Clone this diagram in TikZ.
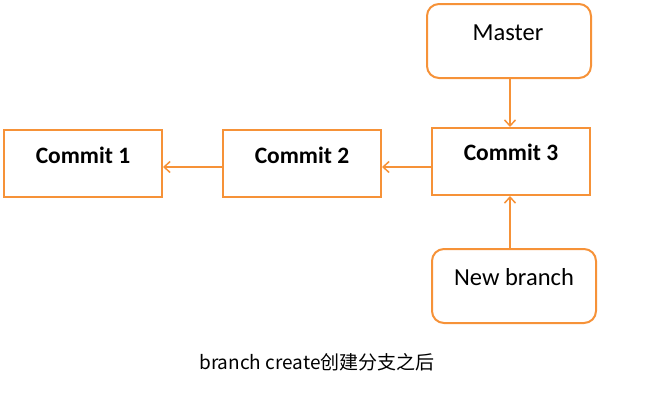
\documentclass[tikz,border=0pt]{standalone}
\usepackage{fontspec}
\setmainfont{Carlito}
\newfontfamily\cjk{Noto Sans CJK SC}
\usetikzlibrary{arrows.meta}
\definecolor{gitorange}{RGB}{246,146,56}
\tikzset{
  commitbox/.style={draw=gitorange, line width=2pt, rectangle},
  refbox/.style={draw=gitorange, line width=2pt, rounded corners=12pt},
  lbl/.style={anchor=base, inner sep=0pt, font=\fontsize{24.5}{28}\selectfont},
  boldlbl/.style={lbl, font=\fontsize{23.5}{28}\selectfont\bfseries},
  link/.style={draw=gitorange, line width=1.5pt, -{Straight Barb[length=6pt,width=11pt,line width=1.5pt]}}
}
\begin{document}
\begin{tikzpicture}[x=1pt,y=-1pt]
\useasboundingbox (0,0) rectangle (656,400);
% boxes
\node[commitbox, minimum width=158pt, minimum height=67pt, inner sep=0pt] (c3) at (511,161.5) {};
\node[commitbox, minimum width=158pt, minimum height=67pt, inner sep=0pt] (c2) at (302,163.5) {};
\node[commitbox, minimum width=158pt, minimum height=67pt, inner sep=0pt] (c1) at (83,163.5) {};
\node[refbox, minimum width=164pt, minimum height=74pt, inner sep=0pt] (master) at (509,41) {};
\node[refbox, minimum width=164pt, minimum height=74pt, inner sep=0pt] (nb) at (514,286) {};
% labels
\node[lbl] (tmaster) at (508,40) {Master};
\node[boldlbl] (t3) at (511,160) {Commit 3};
\node[boldlbl] (t2) at (302,163) {Commit 2};
\node[boldlbl] (t1) at (83,163) {Commit 1};
\node[lbl] (tnb) at (514,285) {New branch};
\node[anchor=base, inner sep=0pt, font=\cjk\fontsize{19}{22}\selectfont] (cap) at (317,369) {branch create创建分支之后};
% connectors
\draw[link] (master.south -| c3.north) ++(-1,0) coordinate (a1) -- (a1 |- c3.north);
\draw[link] (nb.north -| c3.south) ++(-1,0) coordinate (a2) -- (a2 |- c3.south);
\draw[link] (c3.west |- c2.east) ++(0,3.5) coordinate (a3) -- (a3 -| c2.east);
\draw[link] (c2.west) ++(0,3.5) coordinate (a4) -- (a4 -| c1.east);
\end{tikzpicture}
\end{document}
